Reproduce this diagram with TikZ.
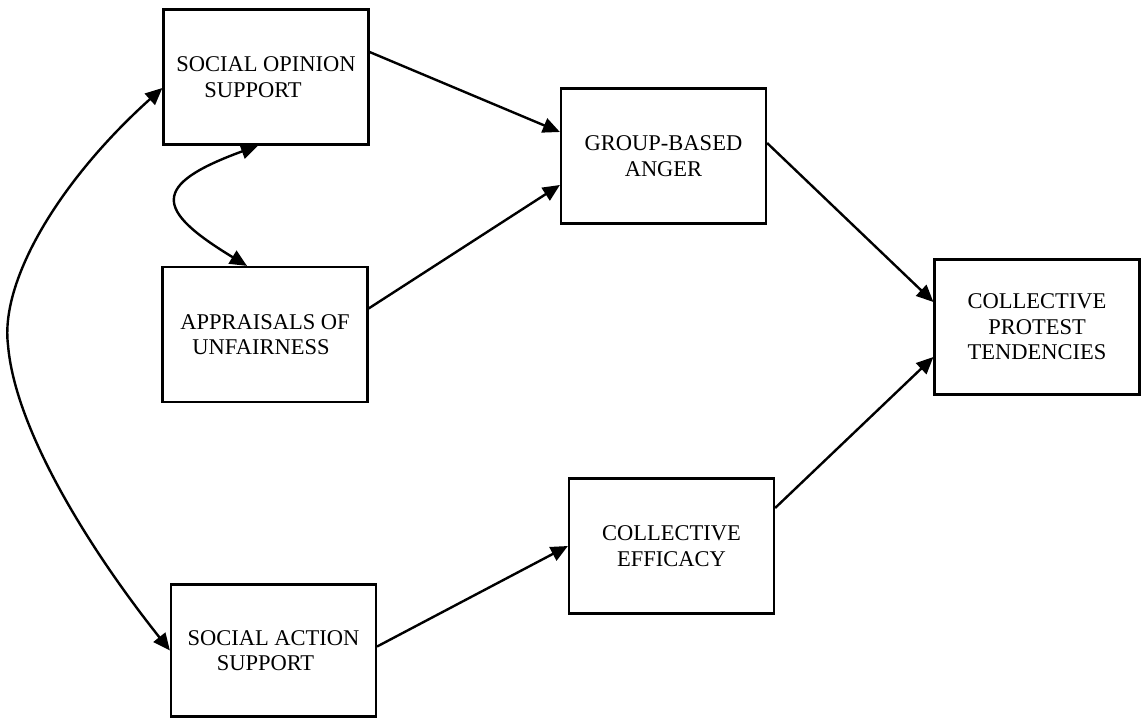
\documentclass[tikz,border=0pt]{standalone}
\usepackage{fontspec}
\setmainfont{Liberation Serif}
\usetikzlibrary{arrows.meta}
\begin{document}
\begin{tikzpicture}[x=1pt,y=-1pt,
  box/.style={draw, line width=2.2pt, minimum width=205pt, minimum height=135pt, inner sep=0pt, align=center, font=\fontsize{22.5}{25.5}\selectfont},
  arr/.style={line width=2.4pt, -{Triangle[length=17pt,width=15pt]}},
  darr/.style={line width=2.4pt, {Triangle[length=17pt,width=15pt]}-{Triangle[length=17pt,width=15pt]}}]
\useasboundingbox (0,0) rectangle (1146,719);
\node[box] (sos) at (266,77) {SOCIAL OPINION\\SUPPORT\hspace*{26pt}};
\node[box] (au) at (265,334.5) {APPRAISALS OF\\UNFAIRNESS\hspace*{8pt}};
\node[box, minimum height=132pt] (sas) at (273.5,650.5) {SOCIAL ACTION\\SUPPORT\hspace*{16pt}};
\node[box] (gba) at (663.5,156) {GROUP-BASED\\ANGER};
\node[box] (cpt) at (1037,327) {COLLECTIVE\\PROTEST\hspace*{18pt}\\TENDENCIES};
\node[box] (ce) at (671.5,546) {COLLECTIVE\\EFFICACY};
% straight paths
\draw[arr] ([yshift=25pt]sos.east) -- ([yshift=24pt]gba.west);
\draw[arr] ([yshift=26pt]au.east) -- ([yshift=-29pt]gba.west);
\draw[arr] ([yshift=13pt]gba.east) -- ([yshift=25pt]cpt.west);
\draw[arr] ([yshift=38pt]ce.east) -- ([yshift=-30pt]cpt.west);
\draw[arr] ([yshift=4pt]sas.east) -- (ce.west);
% curved correlations
\draw[darr] ([xshift=-8pt]sos.south) .. controls (150,185) and (155,210) .. ([xshift=-18pt]au.north);
\coordinate (lm) at (8,345);
\draw[darr] ([yshift=-11pt]sos.west) .. controls (60,180) and (0,280) .. (lm) .. controls (15,430) and (90,550) .. (sas.west);
\end{tikzpicture}
\end{document}
